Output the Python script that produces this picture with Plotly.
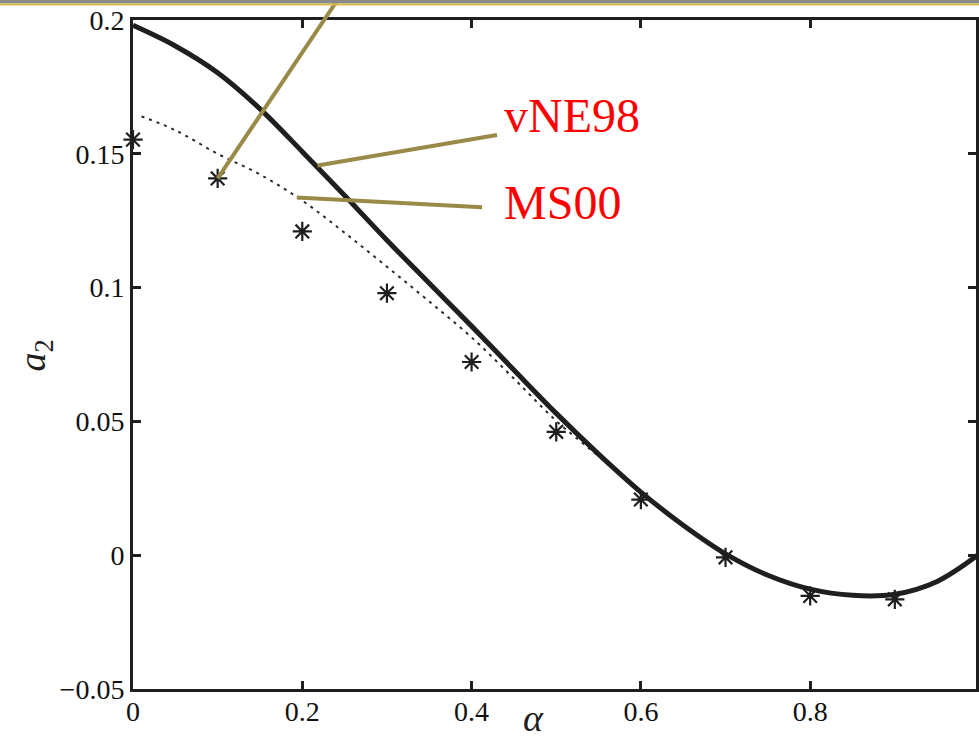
import plotly.graph_objects as go

# vNE98 curve (solid)
alpha_vne = [0.0, 0.05, 0.1, 0.15, 0.2, 0.25, 0.3, 0.35, 0.4, 0.45, 0.5,
             0.55, 0.6, 0.65, 0.7, 0.75, 0.8, 0.85, 0.9, 0.95, 1.0]
a2_vne = [0.198, 0.1903, 0.1803, 0.1668, 0.1508, 0.1344, 0.1177, 0.1016, 0.0856,
          0.0692, 0.0530, 0.0378, 0.0236, 0.0112, 0.0005, -0.0075, -0.0127,
          -0.0150, -0.0146, -0.0098, 0.0005]

# MS00 curve (dotted)
alpha_ms = [0.01, 0.05, 0.1, 0.15, 0.2, 0.25, 0.3, 0.35, 0.4, 0.45, 0.5,
            0.55, 0.6, 0.65, 0.7, 0.75, 0.8, 0.85, 0.9, 0.95, 1.0]
a2_ms = [0.164, 0.1588, 0.150, 0.1423, 0.1325, 0.1205, 0.1078, 0.0948, 0.0814,
         0.0660, 0.0502, 0.0370, 0.0236, 0.0112, 0.0005, -0.0075, -0.0127,
         -0.0150, -0.0146, -0.0098, 0.0005]

# simulation points (asterisks)
alpha_pts = [0.0, 0.1, 0.2, 0.3, 0.4, 0.5, 0.6, 0.7, 0.8, 0.9, 1.0]
a2_pts = [0.1553, 0.1408, 0.121, 0.0979, 0.0722, 0.0461, 0.0208, -0.0008,
          -0.0152, -0.0165, 0.001]

x_ticks = [0, 0.2, 0.4, 0.6, 0.8, 1.0]
x_tick_text = ["0", "0.2", "0.4", "0.6", "0.8", "1"]
y_ticks = [-0.05, 0, 0.05, 0.1, 0.15, 0.2]
y_tick_text = ["\u22120.05", "0", "0.05", "0.1", "0.15", "0.2"]

X_RANGE = [0, 0.9959]
Y_RANGE = [-0.05, 0.2]

INK = "#1f1f1f"
OLIVE = "#9a8a48"
SERIF = "Liberation Serif, Times New Roman, serif"


def to_paper(x, y):
    """Map a data point onto paper coordinates so callout lines are not clipped."""
    px = (x - X_RANGE[0]) / (X_RANGE[1] - X_RANGE[0])
    py = (y - Y_RANGE[0]) / (Y_RANGE[1] - Y_RANGE[0])
    return px, py


fig = go.Figure()

fig.add_trace(go.Scatter(
    x=alpha_ms, y=a2_ms, mode="lines", line_shape="spline",
    line=dict(color="#2a2a2a", width=2, dash="3px,5px"),
    hoverinfo="skip", showlegend=False))

fig.add_trace(go.Scatter(
    x=alpha_vne, y=a2_vne, mode="lines", line_shape="spline",
    line=dict(color=INK, width=5),
    hoverinfo="skip", showlegend=False))

fig.add_trace(go.Scatter(
    x=alpha_pts, y=a2_pts, mode="markers", cliponaxis=False,
    marker=dict(symbol="asterisk-open", size=16, color=INK,
                line=dict(color=INK, width=2.2)),
    hoverinfo="skip", showlegend=False))

# callout lines: (from x, from y, to x, to y) in data units
leaders = [
    (alpha_pts[1], a2_pts[1], 0.2565, 0.2145),
    (0.218, 0.1456, 0.430, 0.1570),
    (0.1935, 0.1337, 0.4124, 0.1300),
]
for hx, hy, tx, ty in leaders:
    x0, y0 = to_paper(hx, hy)
    x1, y1 = to_paper(tx, ty)
    fig.add_shape(type="line", xref="paper", yref="paper",
                  x0=x0, y0=y0, x1=x1, y1=y1, layer="above",
                  line=dict(color=OLIVE, width=4))

labels = [("vNE98", 0.436, 0.1642), ("MS00", 0.436, 0.1318)]
for txt, lx, ly in labels:
    fig.add_annotation(x=lx, y=ly, xref="x", yref="y", text=txt,
                       showarrow=False, xanchor="left", yanchor="middle",
                       font=dict(family=SERIF, size=48, color="#ff0000"))

# axis titles
fig.add_annotation(x=0.475, y=-0.078, xref="paper", yref="paper",
                   text="<i>\u03b1</i>", showarrow=False,
                   xanchor="center", yanchor="bottom",
                   font=dict(family=SERIF, size=38, color=INK))
fig.add_annotation(x=-0.1158, y=0.499, xref="paper", yref="paper",
                   text="<i>a</i><sub>2</sub>", textangle=-90,
                   showarrow=False, xanchor="center", yanchor="middle",
                   font=dict(family=SERIF, size=38, color=INK))

# header rule across the top
fig.add_shape(type="rect", xref="paper", yref="paper", x0=-0.2, x1=1.05,
              y0=1.0245, y1=1.04, line_width=0, fillcolor="#8a8a8a", layer="above")
fig.add_shape(type="rect", xref="paper", yref="paper", x0=-0.2, x1=1.05,
              y0=1.0215, y1=1.0245, line_width=0, fillcolor="#d6bb4a", layer="above")

axis_common = dict(
    showline=True, linewidth=3, linecolor=INK, mirror="ticks",
    ticks="inside", ticklen=8, tickwidth=3, tickcolor=INK,
    showgrid=False, zeroline=False,
    tickfont=dict(family=SERIF, size=28, color="#111111"),
)

fig.update_xaxes(range=X_RANGE, tickvals=x_ticks, ticktext=x_tick_text,
                 ticklabelstandoff=-5, **axis_common)
fig.update_yaxes(range=Y_RANGE, tickvals=y_ticks, ticktext=y_tick_text,
                 **axis_common)

fig.update_layout(
    width=979, height=742,
    margin=dict(l=133, r=0, t=20, b=53),
    paper_bgcolor="white", plot_bgcolor="white",
)

fig.write_html("out.html")
